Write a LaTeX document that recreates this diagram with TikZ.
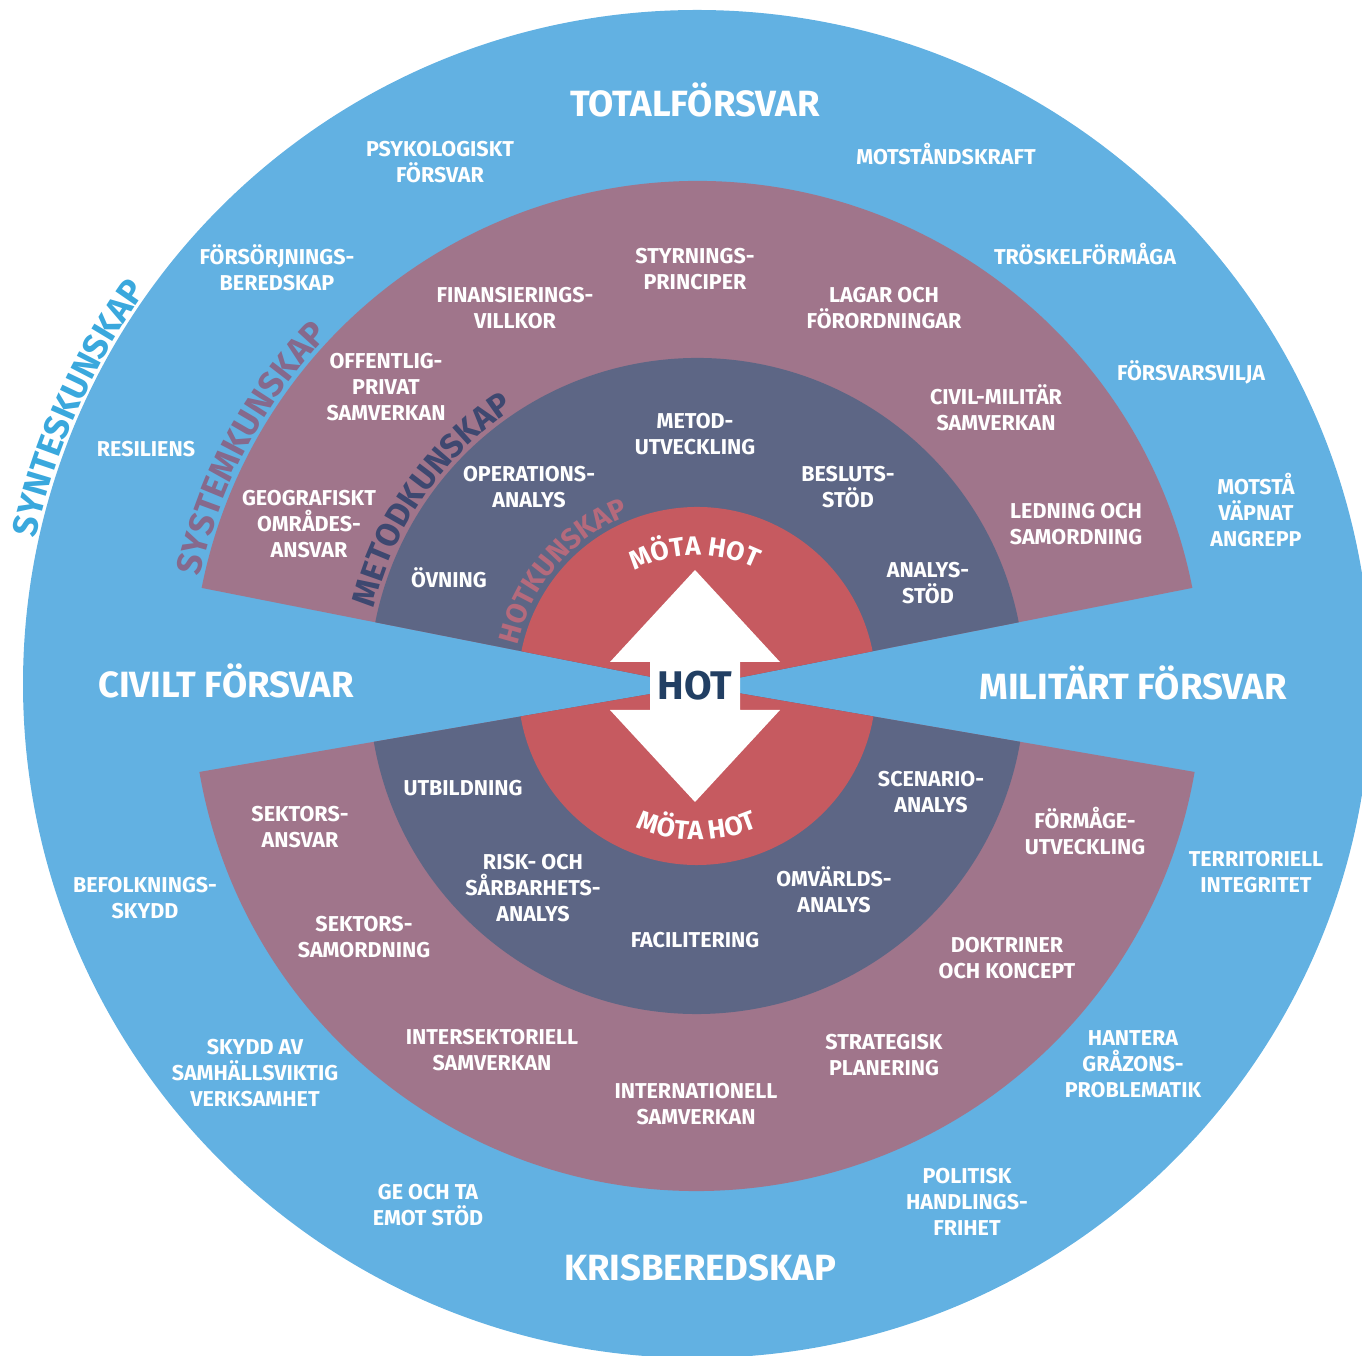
\documentclass[tikz,border=0pt]{standalone}
\usepackage{fontspec}
\setmainfont{Fira Sans}
\usetikzlibrary{decorations.text}
\definecolor{diskblue}{HTML}{62B1E2}
\definecolor{ringmauve}{HTML}{A0758B}
\definecolor{ringslate}{HTML}{5D6685}
\definecolor{hotred}{HTML}{C65A60}
\definecolor{hotnavy}{HTML}{223F63}
\definecolor{syntxt}{HTML}{3AA8DD}
\definecolor{systxt}{HTML}{86698C}
\definecolor{mettxt}{HTML}{3E4870}
\definecolor{hottxt}{HTML}{B56A7C}
\newcommand{\arcfontA}{\bfseries\fontsize{35}{35}\selectfont}
\newcommand{\arcfontB}{\bfseries\fontsize{33}{33}\selectfont}
\newcommand{\arcfontC}{\bfseries\fontsize{28.5}{28.5}\selectfont}
\newcommand{\arcfontD}{\bfseries\fontsize{26.5}{26.5}\selectfont}
\begin{document}
\begin{tikzpicture}[x=1pt,y=1pt,
  lbl/.style={text=white, font=\bfseries\fontsize{21.5}{26}\selectfont, align=center, inner sep=0pt},
  biglbl/.style={text=white, font=\bfseries\fontsize{36.5}{40}\selectfont, inner sep=0pt},
  arctext/.style={decorate, decoration={text along path, text align=center, text={#1}}},
]
\useasboundingbox (0,0) rectangle (1362,1355);
\clip (0,0) rectangle (1362,1355);
\coordinate (O) at (697,671);
\coordinate (A) at (697,669);
\fill[diskblue] (O) circle[radius=674];
% sectors
\begin{scope}[shift={(697,669)}]
\foreach \r/\c in {505/ringmauve,328/ringslate,179/hotred} {
  \fill[\c] (0,0) -- (11.2:\r) arc[start angle=11.2,end angle=168.8,radius=\r] -- cycle;
  \fill[\c] (0,0) -- (189.8:\r) arc[start angle=189.8,end angle=350.2,radius=\r] -- cycle;
}
% curved texts
\path[arctext={|\arcfontB|METODKUNSKAP}, decoration={text color=mettxt}]
  (175:332) arc[start angle=175,end angle=115,radius=332];
\path[arctext={|\arcfontC|HOTKUNSKAP}, decoration={text color=hottxt}]
  (180:184) arc[start angle=180,end angle=99,radius=184];
\path[arctext={|\arcfontA|SYSTEMKUNSKAP}, decoration={text color=systxt}]
  (172:509) arc[start angle=172,end angle=132,radius=509];
\path[arctext={|\arcfontD|MÖTA HOT}, decoration={text color=white}]
  (142:131) arc[start angle=142,end angle=40,radius=131];
\path[arctext={|\arcfontD|MÖTA HOT}, decoration={text color=white}]
  (220:154) arc[start angle=220,end angle=320,radius=154];
\end{scope}
\begin{scope}[shift={(697,671)}]
\path[arctext={|\arcfontA|SYNTESKUNSKAP}, decoration={text color=syntxt}]
  (176:677) arc[start angle=176,end angle=136,radius=677];
\end{scope}
% arrow
\fill[white] (695,785) -- (780,693) -- (740,693) -- (740,645) -- (780,645) -- (695,553)
  -- (610,645) -- (650,645) -- (650,693) -- (610,693) -- cycle;
\node[font=\bfseries\fontsize{40}{40}\selectfont, text=hotnavy, inner sep=0pt] (hot) at (695,669) {HOT};
% big labels
\node[biglbl] (totf) at (695,1255) {TOTALFÖRSVAR};
\node[biglbl] (civf) at (226,674) {CIVILT FÖRSVAR};
\node[biglbl] (milf) at (1133,672) {MILITÄRT FÖRSVAR};
\node[biglbl] (kris) at (700,87) {KRISBEREDSKAP};
% outer ring
\node[lbl] (l1) at (440,1192.5) {PSYKOLOGISKT\\FÖRSVAR};
\node[lbl] (l2) at (946,1201) {MOTSTÅNDSKRAFT};
\node[lbl] (l3) at (277,1087.5) {FÖRSÖRJNINGS-\\BEREDSKAP};
\node[lbl] (l4) at (1085,1101) {TRÖSKELFÖRMÅGA};
\node[lbl] (l5) at (1191,983) {FÖRSVARSVILJA};
\node[lbl] (l6) at (146,906) {RESILIENS};
\node[lbl] (l7) at (1256,845) {MOTSTÅ\\VÄPNAT\\ANGREPP};
\node[lbl] (l8) at (145,456.5) {BEFOLKNINGS-\\SKYDD};
\node[lbl] (l9) at (1256,482.5) {TERRITORIELL\\INTEGRITET};
\node[lbl] (l10) at (255,282) {SKYDD AV\\SAMHÄLLSVIKTIG\\VERKSAMHET};
\node[lbl] (l11) at (1133,291) {HANTERA\\GRÅZONS-\\PROBLEMATIK};
\node[lbl] (l12) at (428,149.5) {GE OCH TA\\EMOT STÖD};
\node[lbl] (l13) at (967,153) {POLITISK\\HANDLINGS-\\FRIHET};
% mauve top
\node[lbl] (m1) at (695,1086) {STYRNINGS-\\PRINCIPER};
\node[lbl] (m2) at (515,1046.5) {FINANSIERINGS-\\VILLKOR};
\node[lbl] (m3) at (884,1046.5) {LAGAR OCH\\FÖRORDNINGAR};
\node[lbl] (m4) at (386,968) {OFFENTLIG-\\PRIVAT\\SAMVERKAN};
\node[lbl] (m5) at (996,947.5) {CIVIL-MILITÄR\\SAMVERKAN};
\node[lbl] (m6) at (309,831) {GEOGRAFISKT\\OMRÅDES-\\ANSVAR};
\node[lbl] (m7) at (1076,830.5) {LEDNING OCH\\SAMORDNING};
% mauve bottom
\node[lbl] (m8) at (300,527.5) {SEKTORS-\\ANSVAR};
\node[lbl] (m9) at (1085,523.5) {FÖRMÅGE-\\UTVECKLING};
\node[lbl] (m10) at (364,417.5) {SEKTORS-\\SAMORDNING};
\node[lbl] (m11) at (1007,397) {DOKTRINER\\OCH KONCEPT};
\node[lbl] (m12) at (492,305) {INTERSEKTORIELL\\SAMVERKAN};
\node[lbl] (m13) at (884,299.5) {STRATEGISK\\PLANERING};
\node[lbl] (m14) at (696,250.5) {INTERNATIONELL\\SAMVERKAN};
% dark top
\node[lbl] (d1) at (695,921) {METOD-\\UTVECKLING};
\node[lbl] (d2) at (529,868) {OPERATIONS-\\ANALYS};
\node[lbl] (d3) at (848,868) {BESLUTS-\\STÖD};
\node[lbl] (d4) at (449,777) {ÖVNING};
\node[lbl] (d5) at (928,772) {ANALYS-\\STÖD};
% dark bottom
\node[lbl] (d6) at (463,567) {UTBILDNING};
\node[lbl] (d7) at (931,562.5) {SCENARIO-\\ANALYS};
\node[lbl] (d8) at (533,467) {RISK- OCH\\SÅRBARHETS-\\ANALYS};
\node[lbl] (d9) at (834,465.5) {OMVÄRLDS-\\ANALYS};
\node[lbl] (d10) at (695,415) {FACILITERING};
\end{tikzpicture}
\end{document}
